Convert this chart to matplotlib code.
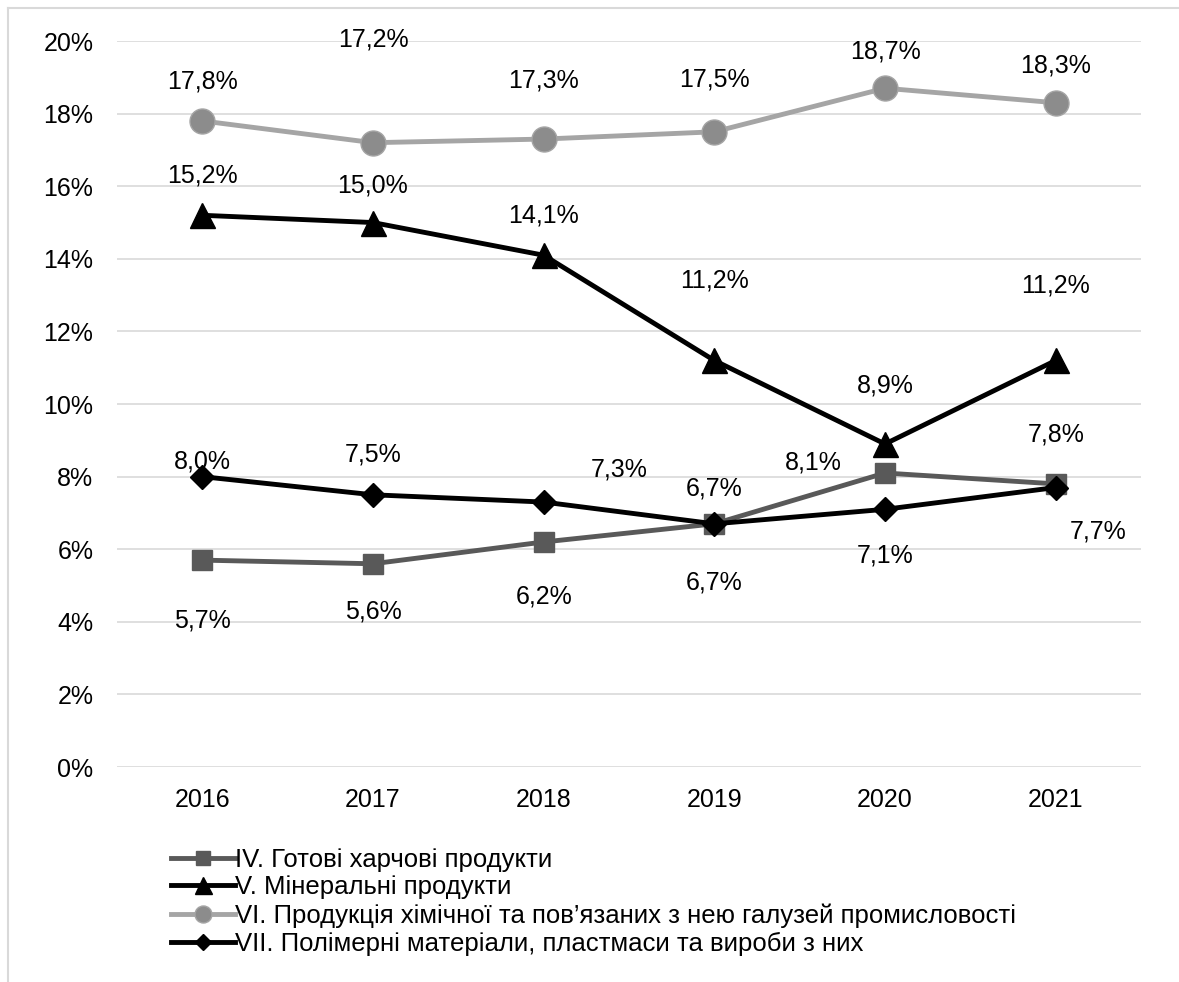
import matplotlib
matplotlib.use("Agg")
import matplotlib.pyplot as plt
from matplotlib.lines import Line2D
from matplotlib.ticker import FuncFormatter

plt.rcParams["font.family"] = ["Liberation Sans", "DejaVu Sans"]

years = ["2016", "2017", "2018", "2019", "2020", "2021"]

series_names = [
    "IV. Готові харчові продукти",
    "V. Мінеральні продукти",
    "VI. Продукція хімічної та пов\u2019язаних з нею галузей промисловості",
    "VII. Полімерні матеріали, пластмаси та вироби з них",
]

food = [5.7, 5.6, 6.2, 6.7, 8.1, 7.8]
mineral = [15.2, 15.0, 14.1, 11.2, 8.9, 11.2]
chemical = [17.8, 17.2, 17.3, 17.5, 18.7, 18.3]
polymer = [8.0, 7.5, 7.3, 6.7, 7.1, 7.7]

y_ticks = [0, 2, 4, 6, 8, 10, 12, 14, 16, 18, 20]

# стиль серій: (колір лінії, маркер, розмір, колір заливки, колір краю)
styles = [
    ("#595959", "s", 14, "#595959", "#595959"),
    ("#000000", "^", 18, "#000000", "#000000"),
    ("#a5a5a5", "o", 18, "#8c8c8c", "#a5a5a5"),
    ("#000000", "D", 12, "#000000", "#000000"),
]

# зсув підписів (dx, dy) у пікселях
label_offsets = [
    [(0, -60), (0, -48), (0, -55), (0, -59), (-72, 11), (0, 49)],
    [(0, 40), (0, 37), (0, 40), (0, 80), (0, 58), (0, 75)],
    [(0, 39), (0, 103), (0, 59), (0, 52), (0, 37), (0, 37)],
    [(0, 15), (0, 40), (76, 33), (0, 35), (0, -46), (42, -44)],
]

FS = 18

fig = plt.figure(figsize=(11.79, 9.82), dpi=100)
ax = fig.add_axes([0.0992, 0.2189, 0.8686, 0.7393])

x = list(range(len(years)))
all_series = [food, mineral, chemical, polymer]
handles = []
for vals, (lc, mk, ms, fc, ec), offs in zip(all_series, styles, label_offsets):
    ax.plot(x, vals, color=lc, lw=3.5, marker=mk, markersize=ms,
            markerfacecolor=fc, markeredgecolor=ec, zorder=3)
    for xi, v, (dx, dy) in zip(x, vals, offs):
        ax.annotate(f"{v:.1f}%".replace(".", ","), (xi, v),
                    xytext=(dx * 0.72, dy * 0.72), textcoords="offset points",
                    ha="center", va="center", fontsize=FS, color="#000000")
    handles.append(Line2D([], [], color=lc, lw=3.5, marker=mk,
                          markersize=ms * 0.68, markerfacecolor=fc,
                          markeredgecolor=ec))

ax.set_xlim(-0.5, 5.5)
ax.set_ylim(0, 20)
ax.set_xticks(x)
ax.set_xticklabels(years)
ax.set_yticks(y_ticks)
ax.yaxis.set_major_formatter(FuncFormatter(lambda v, p: f"{v:.0f}%"))
ax.tick_params(axis="both", length=0, labelsize=FS, colors="#000000")
ax.tick_params(axis="y", pad=17)
ax.tick_params(axis="x", pad=15)
ax.grid(axis="y", color="#d9d9d9", lw=1.2, zorder=0)
ax.set_axisbelow(True)
for sp in ax.spines.values():
    sp.set_visible(False)

fig.legend(handles, series_names, loc="upper left",
           bbox_to_anchor=(0.134, 0.150), frameon=False, fontsize=18.5,
           handlelength=2.5, handletextpad=0.0, labelspacing=0.15,
           borderpad=0)

# рамка діаграми
fig.add_artist(Line2D([0.0068, 1.0], [0.9919, 0.9919], color="#d9d9d9", lw=1.5))
fig.add_artist(Line2D([0.0068, 0.0068], [0.0, 0.9919], color="#d9d9d9", lw=1.5))

fig.savefig("out.png", dpi=100)
